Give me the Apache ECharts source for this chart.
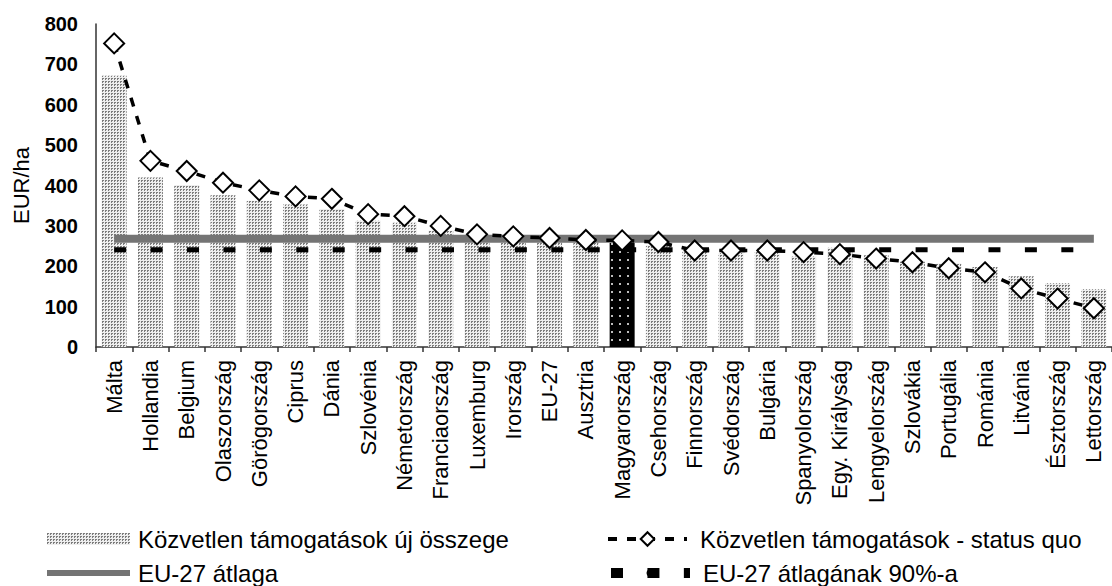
<!DOCTYPE html>
<html>
<head>
<meta charset="utf-8">
<script src="https://cdn.jsdelivr.net/npm/echarts@6/dist/echarts.min.js"></script>
<style>
  html, body { margin: 0; padding: 0; background: #ffffff; }
  #chart { width: 1112px; height: 586px; }
</style>
</head>
<body>
<div id="chart"></div>
<script>
// Országok (kategóriák) és értékek, EUR/ha
const categories = ['Málta', 'Hollandia', 'Belgium', 'Olaszország', 'Görögország', 'Ciprus', 'Dánia',
  'Szlovénia', 'Németország', 'Franciaország', 'Luxemburg', 'Irország', 'EU-27', 'Ausztria',
  'Magyarország', 'Csehország', 'Finnország', 'Svédország', 'Bulgária', 'Spanyolország',
  'Egy. Királyság', 'Lengyelország', 'Szlovákia', 'Portugália', 'Románia', 'Litvánia',
  'Észtország', 'Lettország'];

// Közvetlen támogatások új összege
const newAmount = [672, 420, 401, 376, 362, 353, 342, 313, 308, 288, 272, 266, 268, 262,
  258, 252, 238, 233, 235, 224, 246, 227, 211, 207, 198, 175, 158, 143];

// Közvetlen támogatások - status quo
const statusQuo = [752, 461, 436, 407, 388, 373, 367, 329, 324, 300, 279, 274, 270, 265,
  264, 260, 239, 239, 239, 235, 230, 219, 210, 195, 185, 145, 120, 96];

// EU-27 átlaga és annak 90%-a
const euAverage = 268;
const euAverage90 = 241;

// Kiemelt ország
const highlighted = 'Magyarország';

// Y tengely
const yMin = 0, yMax = 800, yStep = 100;

const NAMES = {
  bar: 'Közvetlen támogatások új összege',
  sq: 'Közvetlen támogatások - status quo',
  avg: 'EU-27 átlaga',
  avg90: 'EU-27 átlagának 90%-a'
};

// Pontozott kitöltési minták
function makeTile(size, bg, fg, dots) {
  const c = document.createElement('canvas');
  c.width = size; c.height = size;
  const ctx = c.getContext('2d');
  ctx.fillStyle = bg; ctx.fillRect(0, 0, size, size);
  ctx.fillStyle = fg;
  dots.forEach(d => ctx.fillRect(d[0], d[1], d[2], d[3]));
  return { image: c.toDataURL(), imageWidth: size, imageHeight: size, repeat: 'repeat' };
}
const greyDots = makeTile(3, '#eeeeee', '#7c7c7c', [[0, 0, 2, 1], [0, 1, 1, 1]]);
const blackDots = makeTile(8, '#000000', '#bdbdbd', [[3, 3, 2, 2]]);

const baseFont = 'Liberation Sans, Arial, sans-serif';

// Jelmagyarázat: egy-egy elem, saját pozícióval
function legendItem(name, left, top, itemWidth, itemHeight, gap, extra) {
  return Object.assign({
    data: [name], left: left, top: top, padding: 0,
    itemWidth: itemWidth, itemHeight: itemHeight, selectedMode: false,
    textStyle: { fontFamily: baseFont, fontSize: 24, lineHeight: 24, color: '#000', padding: [0, 0, 0, gap] }
  }, extra || {});
}

const chart = echarts.init(document.getElementById('chart'), null, { renderer: 'svg' });

chart.setOption({
  animation: false,
  backgroundColor: '#ffffff',
  grid: { left: 96, top: 24, width: 1020, height: 323 },
  legend: [
    legendItem(NAMES.bar, 47, 527, 83, 12, 3, { icon: 'rect' }),
    legendItem(NAMES.avg, 47, 561, 83, 6, 3, { icon: 'rect' }),
    legendItem(NAMES.sq, 606, 527, 79, 17, 8, { lineStyle: { width: 4 } }),
    legendItem(NAMES.avg90, 606, 561, 79, 10, 8, { lineStyle: { width: 10 } })
  ],
  xAxis: {
    type: 'category',
    data: categories,
    boundaryGap: true,
    axisLine: { lineStyle: { color: '#333', width: 1.5 } },
    axisTick: { show: true, alignWithLabel: false, length: 5, lineStyle: { color: '#333', width: 1.5 } },
    axisLabel: {
      interval: 0, rotate: 90, margin: 13,
      fontFamily: baseFont, fontSize: 22, color: '#000'
    }
  },
  yAxis: {
    type: 'value',
    min: yMin, max: yMax, interval: yStep,
    name: 'EUR/ha',
    nameLocation: 'middle',
    nameRotate: 90,
    nameGap: 64,
    nameTextStyle: { fontFamily: baseFont, fontSize: 22, color: '#000' },
    axisLine: { show: true, lineStyle: { color: '#333', width: 1.5 } },
    axisTick: { show: false },
    splitLine: { show: false },
    axisLabel: { margin: 18, fontFamily: baseFont, fontSize: 20, fontWeight: 'bold', color: '#000' }
  },
  series: [
    {
      name: NAMES.bar,
      type: 'bar',
      barWidth: 25,
      itemStyle: { color: greyDots },
      data: newAmount.map((v, i) => categories[i] === highlighted
        ? { value: v, itemStyle: { color: blackDots } }
        : v)
    },
    {
      name: NAMES.avg90,
      type: 'line',
      symbol: 'none',
      lineStyle: { color: '#000', width: 5, type: [12, 24.43] },
      itemStyle: { color: '#000' },
      data: categories.map(() => euAverage90)
    },
    {
      name: NAMES.avg,
      type: 'line',
      symbol: 'none',
      lineStyle: { color: '#747474', width: 8 },
      itemStyle: { color: '#747474' },
      data: categories.map(() => euAverage)
    },
    {
      name: NAMES.sq,
      type: 'line',
      symbol: 'diamond',
      symbolSize: 20,
      showAllSymbol: true,
      lineStyle: { color: '#000', width: 3.5, type: [9, 10] },
      itemStyle: { color: '#ffffff', borderColor: '#000', borderWidth: 2 },
      data: statusQuo,
      z: 5
    }
  ]
});
</script>
</body>
</html>
